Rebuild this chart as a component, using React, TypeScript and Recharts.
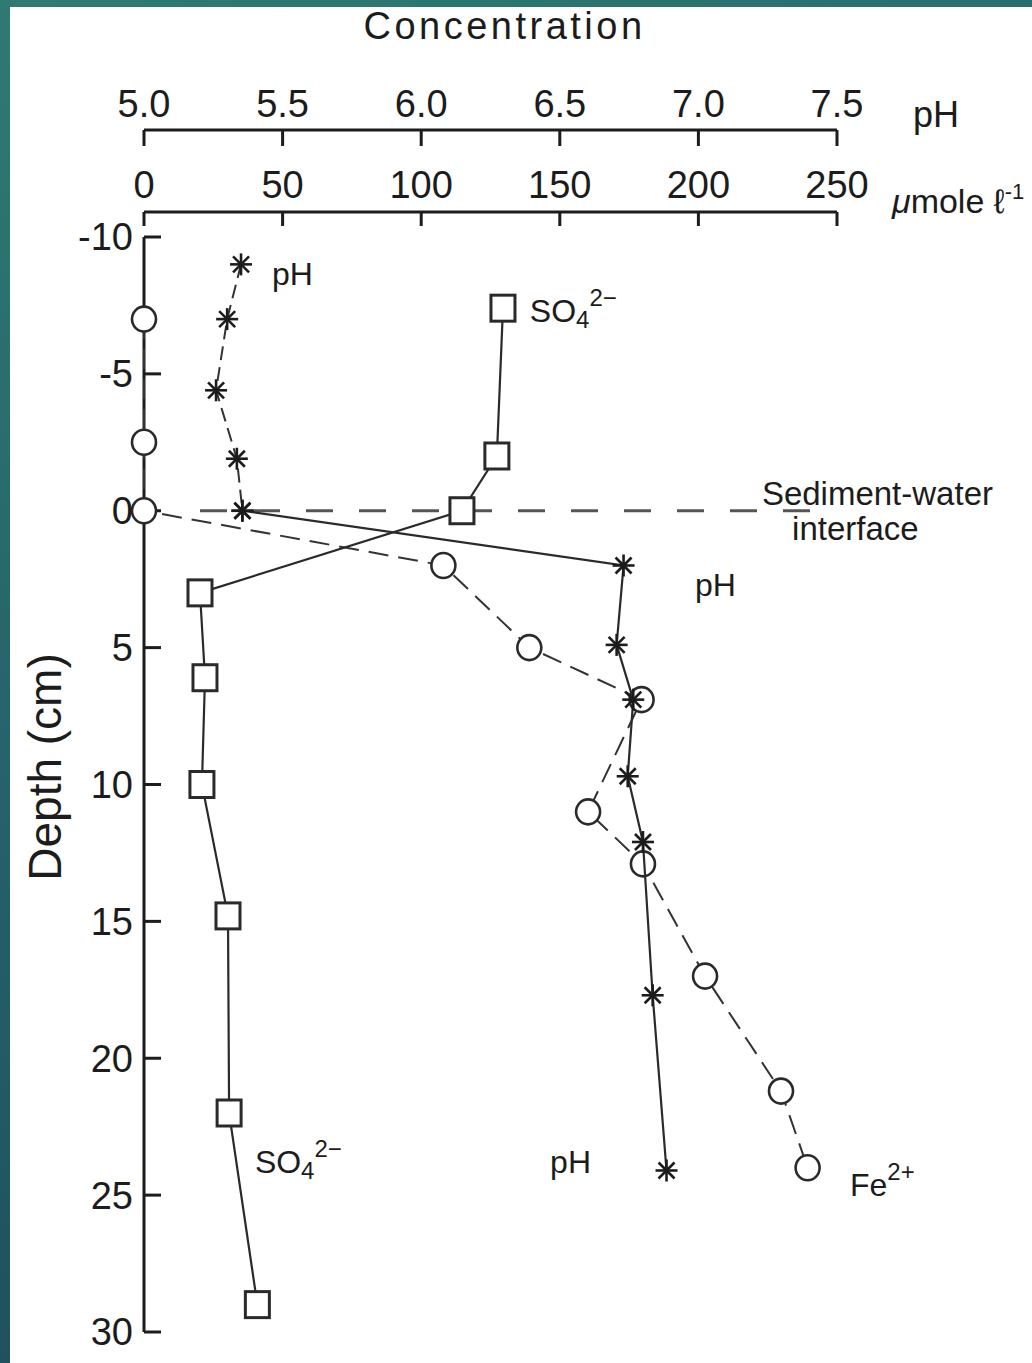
import React from "react";
import { ScatterChart, Scatter, XAxis, YAxis, ReferenceLine, ReferenceDot } from "recharts";

const FONT = "'Liberation Sans', Arial, sans-serif";
const INK = "#1c1c1c";

// depth profile (cm below the sediment-water interface)
const feDepth = [-7, -2.5, 0, 2, 5, 6.9, 11, 12.9, 17, 21.2, 24];
const feConc = [0, 0, 0, 108, 139, 179.5, 160.2, 180, 202.4, 229.8, 239.4];

const so4Depth = [-7.4, -2, 0, 3, 6.1, 10, 14.8, 22, 29];
const so4Conc = [129.5, 127.3, 114.7, 20.2, 22, 20.9, 30.3, 30.7, 40.9];

const phDepth = [-9, -7, -4.4, -1.9, 0, 2, 4.9, 6.9, 9.7, 12.1, 17.7, 24.1];
const phValue = [5.35, 5.3, 5.26, 5.335, 5.355, 6.73, 6.705, 6.765, 6.745, 6.8, 6.835, 6.885];

const concTicks = [0, 50, 100, 150, 200, 250];
const phTicks = [5, 5.5, 6, 6.5, 7, 7.5];
const depthTicks = [-10, -5, 0, 5, 10, 15, 20, 25, 30];

// annotation anchors (start of text, baseline) in conc / depth units
const annotations = [
  { kind: "ph", conc: 46.2, depth: -8.26 },
  { kind: "so4", conc: 139.2, depth: -6.9 },
  { kind: "ph", conc: 198.8, depth: 3.12 },
  { kind: "so4", conc: 40, depth: 24.2 },
  { kind: "ph", conc: 146.5, depth: 24.2 },
  { kind: "fe", conc: 254.7, depth: 25.05 },
  { kind: "sed", conc: 222.9, depth: -0.21 },
  { kind: "int", conc: 233.8, depth: 1.07 },
];

const feData = feDepth.map((depth, i) => ({ depth, conc: feConc[i] }));
const so4Data = so4Depth.map((depth, i) => ({ depth, conc: so4Conc[i] }));
const phData = phDepth.map((depth, i) => ({ depth, ph: phValue[i] }));
const phUpper = phData.slice(0, 5);
const phLower = phData.slice(4);

const CircleMark = (p: any) => <ellipse cx={p.cx} cy={p.cy} rx={12} ry={12.5} fill="#fff" stroke="#2a2a2a" strokeWidth={2.6}/>;
const SquareMark = (p: any) => <rect x={p.cx - 12} y={p.cy - 13} width={24} height={26} fill="#fff" stroke="#2a2a2a" strokeWidth={3}/>;
const StarMark = (p: any) => <g stroke={INK} strokeWidth={2.6}>
  <line x1={p.cx - 11} y1={p.cy} x2={p.cx + 11} y2={p.cy}/>
  <line x1={p.cx} y1={p.cy - 11} x2={p.cx} y2={p.cy + 11}/>
  <line x1={p.cx - 8} y1={p.cy - 8} x2={p.cx + 8} y2={p.cy + 8}/>
  <line x1={p.cx - 8} y1={p.cy + 8} x2={p.cx + 8} y2={p.cy - 8}/>
</g>;

function annotText(kind: string, x: number, y: number) {
  const base = { x, y, fontFamily: FONT, fontSize: 32, fill: INK };
  if (kind === "ph") return <text {...base}>pH</text>;
  if (kind === "so4") return <text {...base}>SO<tspan fontSize={24} dy={6}>4</tspan><tspan fontSize={24} dy={-22}>2−</tspan></text>;
  if (kind === "fe") return <text {...base}>Fe<tspan fontSize={24} dy={-16}>2+</tspan></text>;
  if (kind === "sed") return <text {...base} fontSize={33}>Sediment-water</text>;
  return <text {...base} fontSize={33}>interface</text>;
}

const titleLabel = (p: any) => {
  const vb = p.viewBox;
  return <text x={vb.x + vb.width / 2 + 14} y={vb.y + 39} textAnchor="middle" fontFamily={FONT} fontSize={38} letterSpacing={3.5} fill={INK}>Concentration</text>;
};
const phUnitLabel = (p: any) => {
  const vb = p.viewBox;
  return <text x={vb.x + vb.width + 76} y={vb.y + vb.height - 3} fontFamily={FONT} fontSize={36} fill={INK}>pH</text>;
};
const concUnitLabel = (p: any) => {
  const vb = p.viewBox;
  return <text x={vb.x + vb.width + 55} y={vb.y + vb.height + 1} fontFamily={FONT} fontSize={34} fill={INK}>
    <tspan fontStyle="italic">μ</tspan>mole ℓ<tspan fontSize={22} dy={-14}>-1</tspan>
  </text>;
};
const depthLabel = (p: any) => {
  const vb = p.viewBox;
  const cx = vb.x + 45, cy = vb.y + vb.height / 2 - 5;
  return <text x={cx} y={cy} transform={`rotate(-90 ${cx} ${cy})`} textAnchor="middle" dominantBaseline="central" fontFamily={FONT} fontSize={46} fill={INK}>Depth (cm)</text>;
};

const tickStyle = { fontSize: 38, fill: INK, fontFamily: FONT };
const axisStroke = { stroke: INK, strokeWidth: 3 };

export default function App() {
  return <div style={{ position: "absolute", left: 0, top: 0, width: 1032, height: 1363, background: "linear-gradient(160deg, #2f7a72 0%, #24606a 50%, #1b4753 100%)", overflow: "hidden" }}>
    <div style={{ position: "absolute", left: 10, top: 7, right: 0, bottom: 0, background: "#fff" }}/>
    <div style={{ position: "absolute", left: 0, top: 0 }}>
      <ScatterChart width={1032} height={1363} margin={{ top: 0, right: 195, bottom: 31, left: 0 }}>
        <XAxis xAxisId="conc" type="number" dataKey="conc" orientation="top" domain={[0, 250]} ticks={concTicks} interval={0}
          height={82} tick={tickStyle} axisLine={axisStroke} tickLine={axisStroke} tickSize={-14} tickMargin={28}
          label={{ content: concUnitLabel }}/>
        <XAxis xAxisId="ph" type="number" dataKey="ph" orientation="top" domain={[5, 7.5]} ticks={phTicks} interval={0}
          height={130} tick={tickStyle} axisLine={axisStroke} tickLine={axisStroke} tickSize={-16} tickMargin={29}
          tickFormatter={(v: number) => v.toFixed(1)} label={{ content: (p: any) => <g>{titleLabel(p)}{phUnitLabel(p)}</g> }}/>
        <YAxis type="number" dataKey="depth" domain={[-10.913, 30]} reversed ticks={depthTicks} interval={0}
          width={144} tick={tickStyle} axisLine={false} tickLine={axisStroke} tickSize={-17} tickMargin={28}
          label={{ content: depthLabel }}/>

        <ReferenceLine xAxisId="conc" segment={[{ x: 0, y: -10 }, { x: 0, y: 30 }]} stroke={INK} strokeWidth={3} ifOverflow="visible"/>
        <ReferenceLine xAxisId="conc" segment={[{ x: 20.2, y: 0 }, { x: 249, y: 0 }]} stroke="#555" strokeWidth={3} strokeDasharray="27 26" ifOverflow="visible"/>

        <Scatter xAxisId="conc" data={feData} shape={CircleMark} isAnimationActive={false}
          line={{ stroke: "#333", strokeWidth: 2, strokeDasharray: "20 10" }}/>
        <Scatter xAxisId="conc" data={so4Data} shape={SquareMark} isAnimationActive={false}
          line={{ stroke: "#2a2a2a", strokeWidth: 2.2 }}/>
        <Scatter xAxisId="ph" data={phUpper} shape={StarMark} isAnimationActive={false}
          line={{ stroke: "#333", strokeWidth: 2, strokeDasharray: "14 7" }}/>
        <Scatter xAxisId="ph" data={phLower} shape={StarMark} isAnimationActive={false}
          line={{ stroke: "#2a2a2a", strokeWidth: 2.2 }}/>

        {annotations.map((a, i) => <ReferenceDot key={`${a.kind}-${i}`} xAxisId="conc" x={a.conc} y={a.depth} r={0} ifOverflow="visible"
          fill="none" stroke="none" label={{ content: (p: any) => annotText(a.kind, p.viewBox.x, p.viewBox.y) }}/>)}
      </ScatterChart>
    </div>
  </div>;
}
